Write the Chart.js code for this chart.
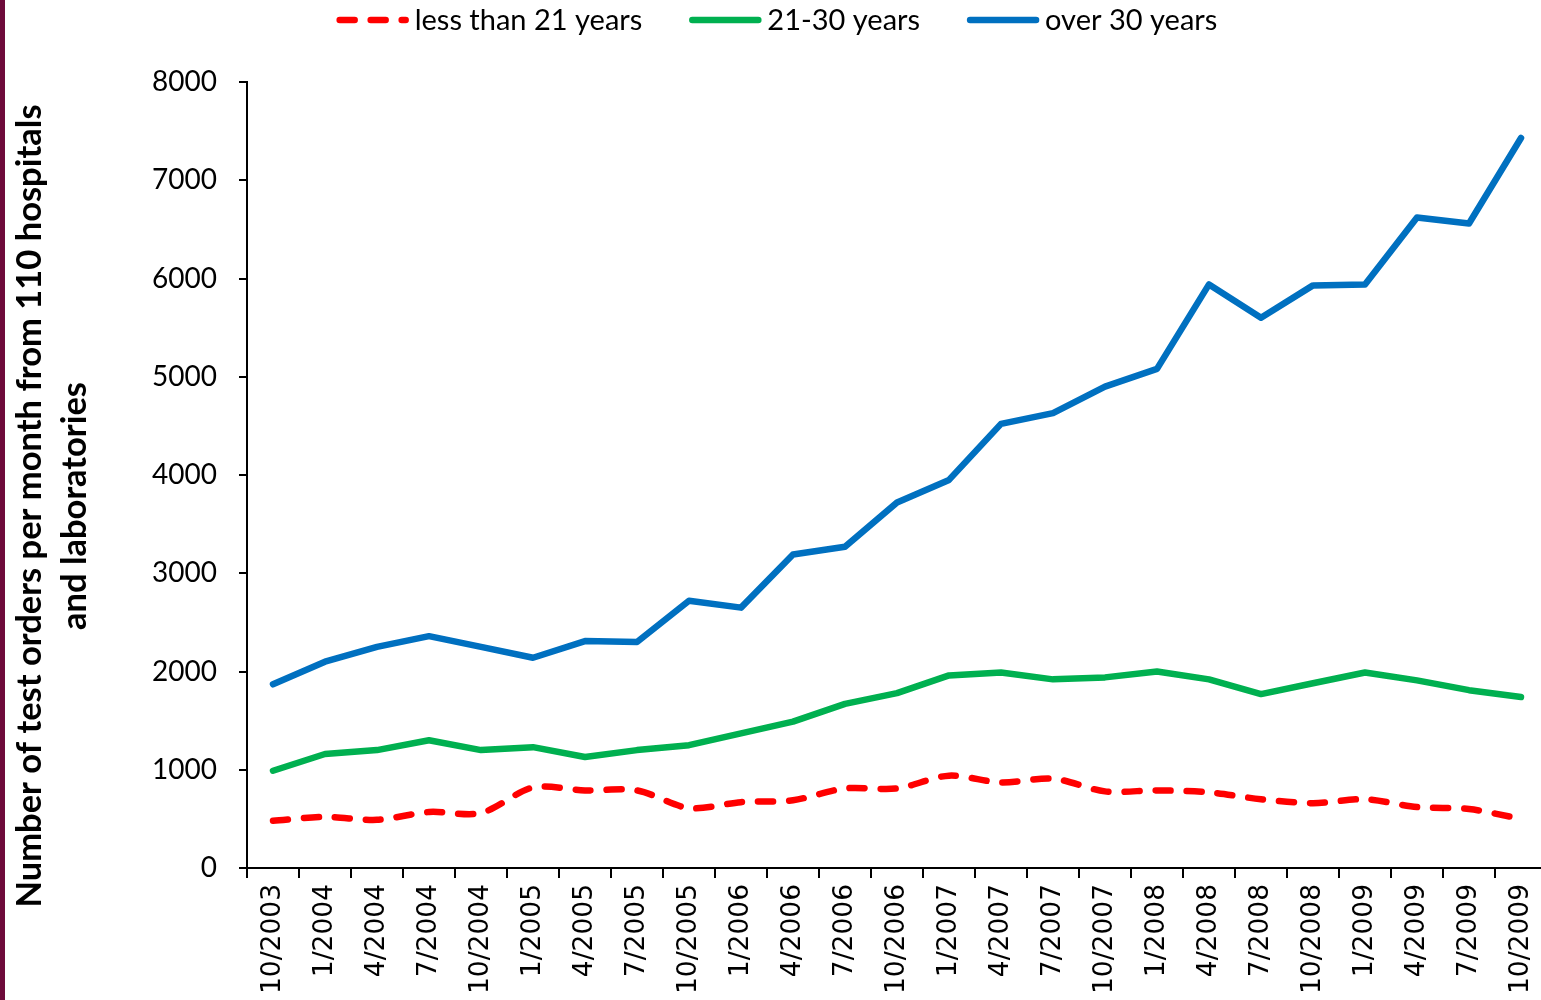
<!DOCTYPE html>
<html>
<head>
<meta charset="utf-8">
<script src="https://cdn.jsdelivr.net/npm/chart.js@4.4.1/dist/chart.umd.min.js"></script>
<style>
    body { margin: 0; background: #fff; overflow: hidden; }
    #wrap { position: relative; width: 1550px; height: 1000px; }
    #edge { position: absolute; left: 0; top: 0; width: 5px; height: 1000px; background: #6e0b3b; }
</style>
</head>
<body>
<div id="wrap">
    <canvas id="ordersChart" width="1550" height="1000"></canvas>
    <div id="edge"></div>
</div>
<script>
const quarters = ['10/2003', '1/2004', '4/2004', '7/2004', '10/2004', '1/2005', '4/2005', '7/2005',
    '10/2005', '1/2006', '4/2006', '7/2006', '10/2006', '1/2007', '4/2007', '7/2007', '10/2007',
    '1/2008', '4/2008', '7/2008', '10/2008', '1/2009', '4/2009', '7/2009', '10/2009'];

const under21 = [480, 520, 490, 570, 560, 820, 790, 790, 610, 670, 690, 810, 810, 940, 870, 910,
    780, 790, 770, 700, 660, 700, 620, 600, 500];
const age21to30 = [990, 1160, 1200, 1300, 1200, 1230, 1130, 1200, 1250, 1370, 1490, 1670, 1780,
    1960, 1990, 1920, 1940, 2000, 1920, 1770, 1880, 1990, 1910, 1810, 1740];
const over30 = [1870, 2100, 2250, 2360, 2250, 2140, 2310, 2300, 2720, 2650, 3190, 3270, 3720,
    3950, 4520, 4630, 4900, 5080, 5940, 5600, 5930, 5940, 6620, 6560, 7430];

const yTitle = ['Number of test orders per month from 110 hospitals', 'and laboratories'];

// legend drawn by hand: line sample right next to the text, like the original
const lineLegend = {
    id: 'lineLegend',
    afterDraw(chart) {
        const c = chart.ctx;
        const sampleW = 72, textGap = 6, itemGap = 47, y = 20;
        c.save();
        c.font = '29px Lato';
        c.textBaseline = 'middle';
        const items = chart.data.datasets.map(ds => ({ ds, w: c.measureText(ds.label).width }));
        let total = -itemGap;
        items.forEach(it => { total += sampleW + textGap + it.w + itemGap; });
        let x = 777 - total / 2;
        items.forEach(it => {
            c.strokeStyle = it.ds.borderColor;
            c.lineWidth = it.ds.borderWidth;
            c.lineCap = 'round';
            c.setLineDash(it.ds.borderDash || []);
            c.beginPath();
            c.moveTo(x + 3, y);
            c.lineTo(x + sampleW - 3, y);
            c.stroke();
            c.setLineDash([]);
            c.fillStyle = '#000';
            c.fillText(it.ds.label, x + sampleW + textGap, y + 1);
            x += sampleW + textGap + it.w + itemGap;
        });
        c.restore();
    }
};

// axis title sits a bit below the middle of the axis in the original
const axisTitle = {
    id: 'axisTitle',
    afterDraw(chart) {
        const c = chart.ctx;
        c.save();
        c.translate(0, 506);
        c.rotate(-Math.PI / 2);
        c.font = 'bold 34.5px Lato';
        c.fillStyle = '#000';
        c.textAlign = 'center';
        c.textBaseline = 'middle';
        c.fillText(yTitle[0], 0, 30);
        c.fillText(yTitle[1], 0, 75);
        c.restore();
    }
};

const ctx = document.getElementById('ordersChart').getContext('2d');
const ordersChart = new Chart(ctx, {
    type: 'line',
    data: {
        labels: quarters,
        datasets: [{
            label: 'less than 21 years',
            data: under21,
            borderColor: '#ff0000',
            borderWidth: 6.5,
            borderDash: [15, 16],
            borderCapStyle: 'round',
            tension: 0.3,
            pointRadius: 0
        }, {
            label: '21-30 years',
            data: age21to30,
            borderColor: '#00b050',
            borderWidth: 6.5,
            borderCapStyle: 'round',
            borderJoinStyle: 'round',
            pointRadius: 0
        }, {
            label: 'over 30 years',
            data: over30,
            borderColor: '#0070c0',
            borderWidth: 6.5,
            borderCapStyle: 'round',
            borderJoinStyle: 'round',
            pointRadius: 0
        }]
    },
    options: {
        responsive: false,
        animation: false,
        layout: {
            // canvas is a bit wider than the window: the plot runs past the right edge like the original
            padding: { left: 0, right: 3, top: 82, bottom: 0 }
        },
        plugins: {
            tooltip: { enabled: false },
            legend: { display: false }
        },
        scales: {
            y: {
                min: 0,
                max: 8000,
                afterFit: function(scale) { scale.width = 247; },
                border: { color: '#000', width: 2 },
                grid: { display: true, drawOnChartArea: false, tickLength: 8, color: '#000', lineWidth: 2 },
                ticks: {
                    stepSize: 1000,
                    padding: 22,
                    color: '#000',
                    font: { family: 'Lato', size: 28 },
                    callback: function(value) { return String(value); }
                }
            },
            x: {
                offset: true,
                afterFit: function(scale) {
                    scale.height = 132;
                    scale.paddingRight = 0;
                },
                border: { color: '#000', width: 2 },
                grid: { display: true, offset: true, drawOnChartArea: false, tickLength: 10, color: '#000', lineWidth: 2 },
                ticks: {
                    autoSkip: false,
                    maxRotation: 90,
                    minRotation: 90,
                    padding: 6,
                    color: '#000',
                    font: { family: 'DejaVu Sans', size: 26.5 }
                }
            }
        }
    },
    plugins: [lineLegend, axisTitle]
});
</script>
</body>
</html>
